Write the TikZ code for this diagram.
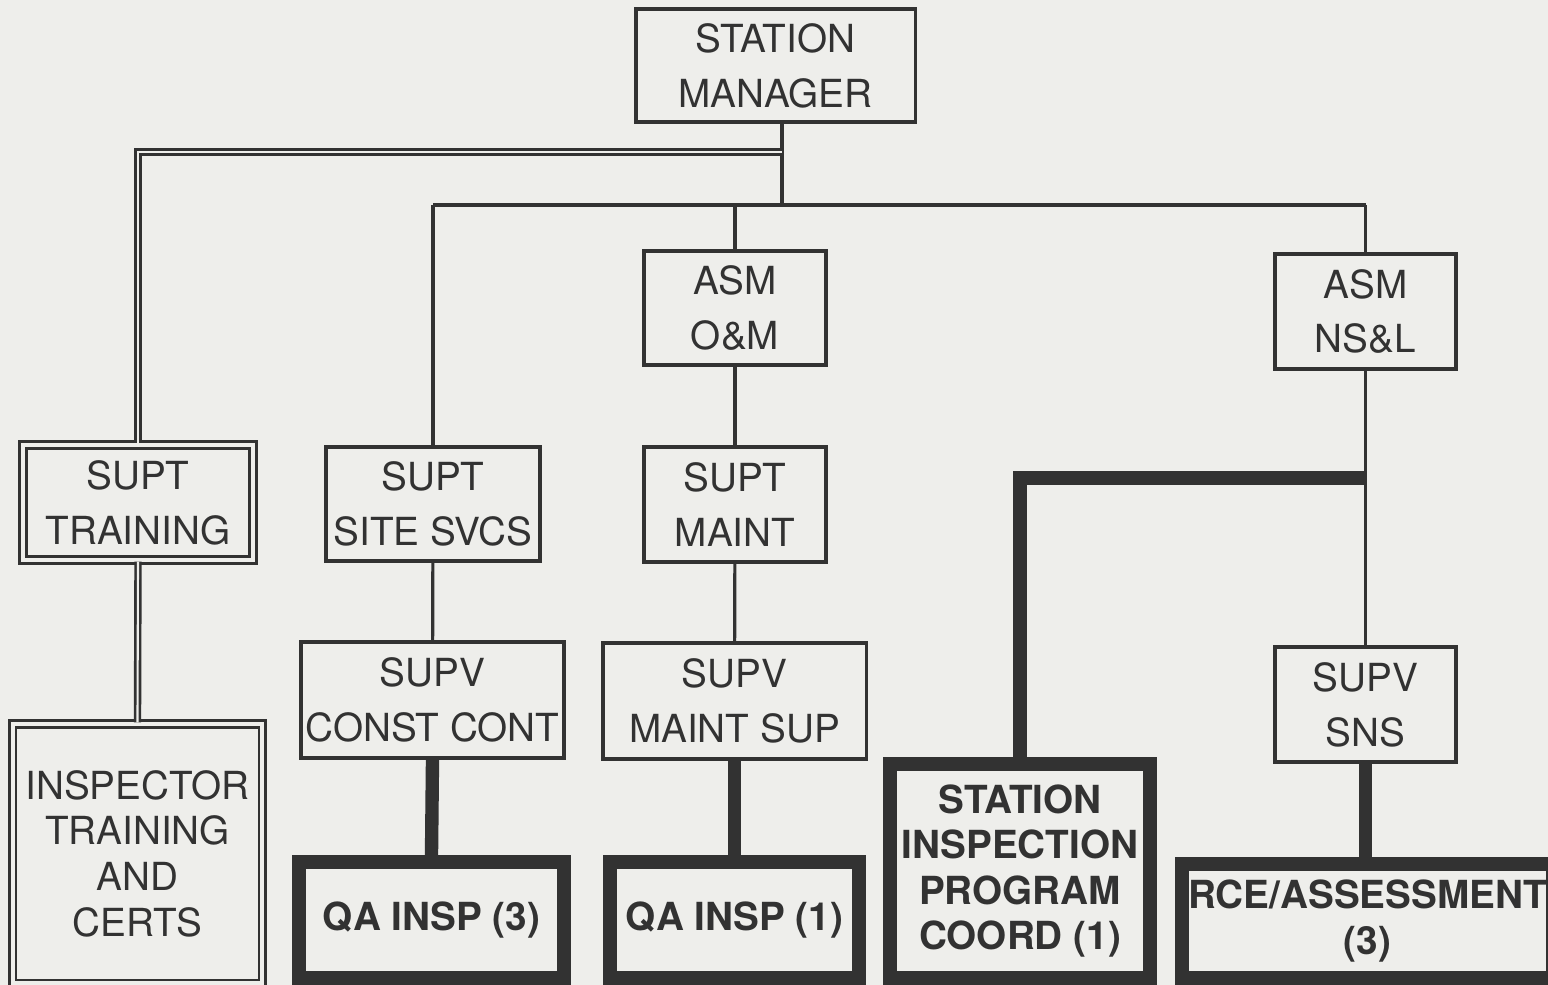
\documentclass[tikz,border=0pt]{standalone}
\usepackage{fontspec}
\setsansfont{TeX Gyre Heros}
\usetikzlibrary{calc,positioning}
\definecolor{paper}{RGB}{238,238,235}
\definecolor{ink}{RGB}{50,50,50}
\tikzset{
  every node/.style={font=\sffamily\fontsize{11}{15.6}\selectfont, text=ink},
  box/.style={draw=ink, fill=paper, line width=0.9pt, inner sep=0pt, align=center},
  double box/.style={box, double=paper, double distance=0.9pt, line width=0.85pt},
  heavy box/.style={box, line width=4pt,
    font=\sffamily\bfseries\fontsize{11}{12.9}\selectfont},
  edge/.style={draw=ink, line width=0.9pt},
  double edge/.style={draw=ink, double=paper, double distance=0.6pt, line width=0.75pt},
  heavy edge/.style={draw=ink, line width=3.8pt}
}

\begin{document}
\begin{tikzpicture}[x=0.01cm, y=-0.01cm]
  \useasboundingbox (0,0) rectangle (1548,985);
  \fill[paper] (0,0) rectangle (1548,985);

  % top levels
  \node[box, minimum width=2.79cm, minimum height=1.13cm] (mgr) at (775.5,65.5) {STATION\\MANAGER};
  \node[box, minimum width=1.82cm, minimum height=1.14cm] (asmom) at (735,308) {ASM\\O\&M};
  \node[box, minimum width=1.81cm, minimum height=1.15cm] (asmnsl) at (1365.5,311.5) {ASM\\NS\&L};

  % superintendents
  \node[double box, minimum width=2.30cm, minimum height=1.15cm] (supttrn) at (138,502.5) {SUPT\\TRAINING};
  \node[box, minimum width=2.14cm, minimum height=1.14cm] (suptsite) at (433,504) {SUPT\\SITE SVCS};
  \node[box, minimum width=1.82cm, minimum height=1.15cm] (suptmnt) at (735,504.5) {SUPT\\MAINT};

  % supervisors
  \node[box, minimum width=2.63cm, minimum height=1.16cm] (supvcc) at (432.5,700) {SUPV\\CONST CONT};
  \node[box, minimum width=2.63cm, minimum height=1.16cm] (supvms) at (734.5,701) {SUPV\\MAINT SUP};
  \node[box, minimum width=1.81cm, minimum height=1.15cm] (supvsns) at (1365.5,704.5) {SUPV\\SNS};

  % inspection groups
  \node[double box, minimum width=2.49cm, minimum height=2.59cm,
    font=\sffamily\fontsize{11}{13}\selectfont] (insptrn) at (137.5,853.5)
    {INSPECTOR\\TRAINING\\AND\\CERTS};
  \node[heavy box, minimum width=2.65cm, minimum height=1.16cm] (qa3) at (431.5,920) {QA INSP (3)};
  \node[heavy box, minimum width=2.49cm, minimum height=1.16cm] (qa1) at (734.5,920) {QA INSP (1)};
  \node[heavy box, minimum width=2.60cm, minimum height=2.14cm] (sipc) at (1020,871)
    {STATION\\INSPECTION\\PROGRAM\\COORD (1)};
  \node[heavy box, minimum width=3.71cm, minimum height=1.14cm] (rce) at (1367.5,921)
    {RCE/ASSESSMENT\\(3)};

  \coordinate (hub) at (782,205);
  \coordinate (trn) at (782,152);
  \coordinate (branch) at (1366,478);

  % thin connectors
  \draw[edge] (mgr.south -| hub) -- (hub);
  \draw[edge] (suptsite.north |- hub) -- (asmnsl.north |- hub);
  \draw[edge] (suptsite.north |- hub) -- (suptsite.north);
  \draw[edge] (asmom.north |- hub) -- (asmom.north);
  \draw[edge] (asmnsl.north |- hub) -- (asmnsl.north);
  \draw[edge] (asmom) -- (suptmnt);
  \draw[edge] (suptmnt) -- (supvms);
  \draw[edge] (suptsite) -- (supvcc);
  \draw[edge] (asmnsl) -- (supvsns);

  % training line
  \draw[double edge] (trn) -| (supttrn.north);
  \draw[double edge] (supttrn.south) -- (insptrn.north);

  % heavy connectors
  \draw[heavy edge] (supvcc.south) -- (qa3.north);
  \draw[heavy edge] (supvms.south) -- (qa1.north);
  \draw[heavy edge] (supvsns.south) -- (supvsns.south |- rce.north);
  \draw[heavy edge] (branch) -| (sipc.north);
\end{tikzpicture}
\end{document}
